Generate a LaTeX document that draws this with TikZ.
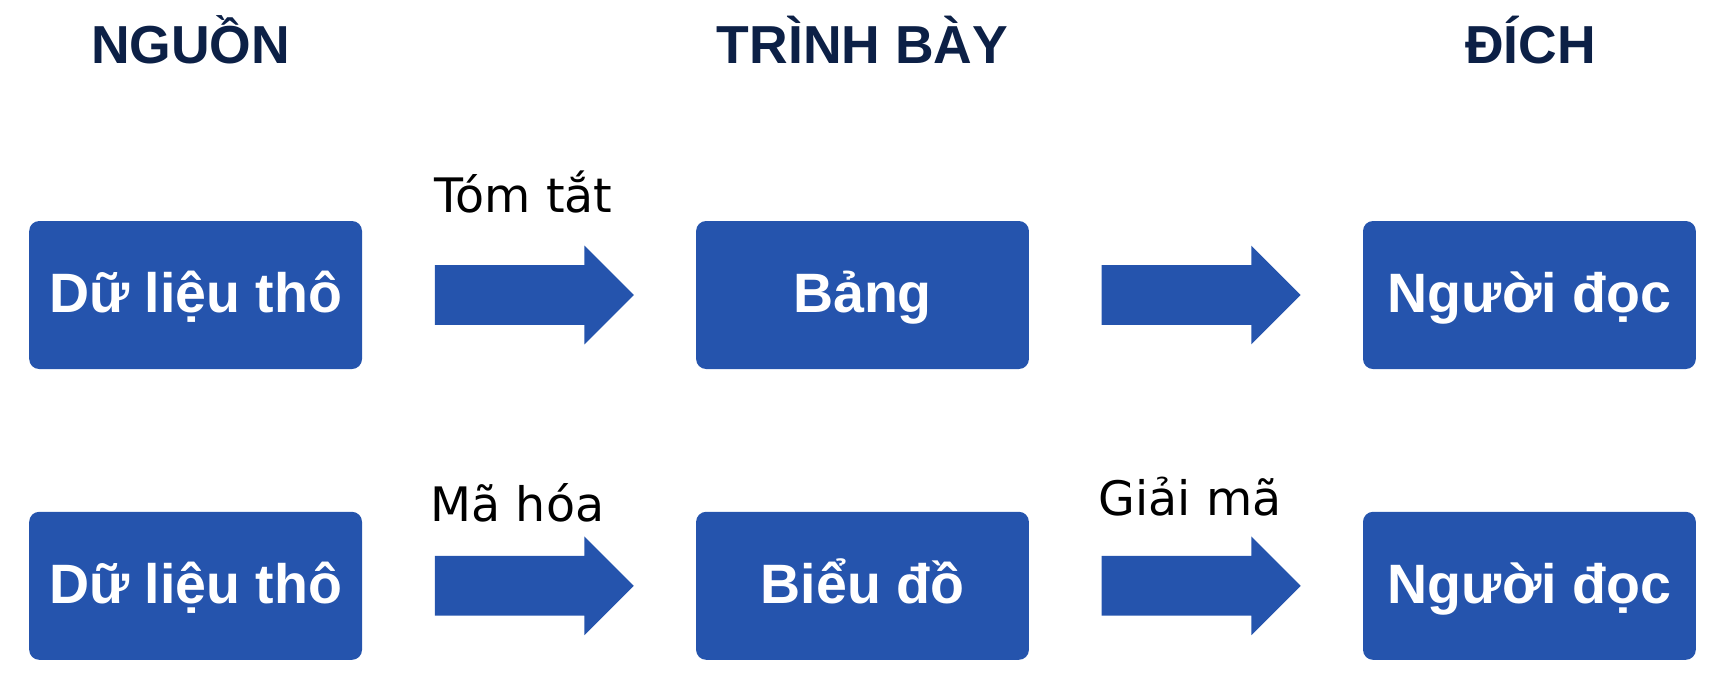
\documentclass[tikz,border=0pt]{standalone}
\usepackage{fontspec}
\setmainfont{DejaVu Sans}
\newfontfamily\arialfont{Liberation Sans}
\usetikzlibrary{shapes.arrows,positioning,calc}
\definecolor{boxblue}{RGB}{37,84,173}
\definecolor{headnavy}{RGB}{12,32,70}
\tikzset{
  stagebox/.style={rectangle, rounded corners=5pt, fill=boxblue, text=white,
    minimum width=166.4pt, minimum height=74pt, inner sep=0pt,
    font=\arialfont\bfseries\fontsize{27.75}{32}\selectfont,
    text height=20pt, text depth=2.5pt},
  blockarrow/.style={single arrow, fill=boxblue, inner xsep=0pt, inner ysep=14.75pt,
    single arrow head extend=9.75pt, single arrow tip angle=90,
    minimum height=99.5pt, anchor=tail},
  headtext/.style={text=headnavy, inner sep=0pt, anchor=base,
    font=\arialfont\bfseries\fontsize{26.75}{32}\selectfont},
  steplabel/.style={inner sep=0pt, anchor=base west,
    font=\fontsize{23.75}{30}\selectfont}
}

\begin{document}
\begin{tikzpicture}
            \useasboundingbox (0,0) rectangle (857pt,-341pt);
            % stage boxes
            \node[stagebox] (du1) at (97.8pt,-147.5pt) {Dữ liệu thô};
            \node[stagebox, right=166.65pt of du1] (bang) {Bảng};
            \node[stagebox, right=166.65pt of bang] (doc1) {Người đọc};
            \node[stagebox, below=71pt of du1] (du2) {Dữ liệu thô};
            \node[stagebox, right=166.65pt of du2] (bieudo) {Biểu đồ};
            \node[stagebox, right=166.65pt of bieudo] (doc2) {Người đọc};
            % column headers
            \node[headtext] (hnguon) at ($(du1.north)+(-2.5pt,78.35pt)$) {NGUỒN};
            \node[headtext] (htrinhbay) at ($(bang.north)+(0,78.35pt)$) {TRÌNH BÀY};
            \node[headtext] (hdich) at ($(doc1.north)+(0.5pt,78.35pt)$) {ĐÍCH};
            % block arrows
            \node[blockarrow] (a1) at ($(du1.east)+(36pt,0)$) {};
            \node[blockarrow] (a2) at ($(bang.east)+(36pt,0)$) {};
            \node[blockarrow] (a3) at ($(du2.east)+(36pt,0)$) {};
            \node[blockarrow] (a4) at ($(bieudo.east)+(36pt,0)$) {};
            % arrow labels
            \node[steplabel] (ltomtat) at ($(a1.tail)+(0,41.2pt)$) {Tóm tắt};
            \node[steplabel] (lmahoa) at ($(a3.tail)+(-2pt,32.4pt)$) {Mã hóa};
            \node[steplabel] (lgiaima) at ($(a4.tail)+(-1.5pt,35.2pt)$) {Giải mã};
        \end{tikzpicture}
\end{document}
